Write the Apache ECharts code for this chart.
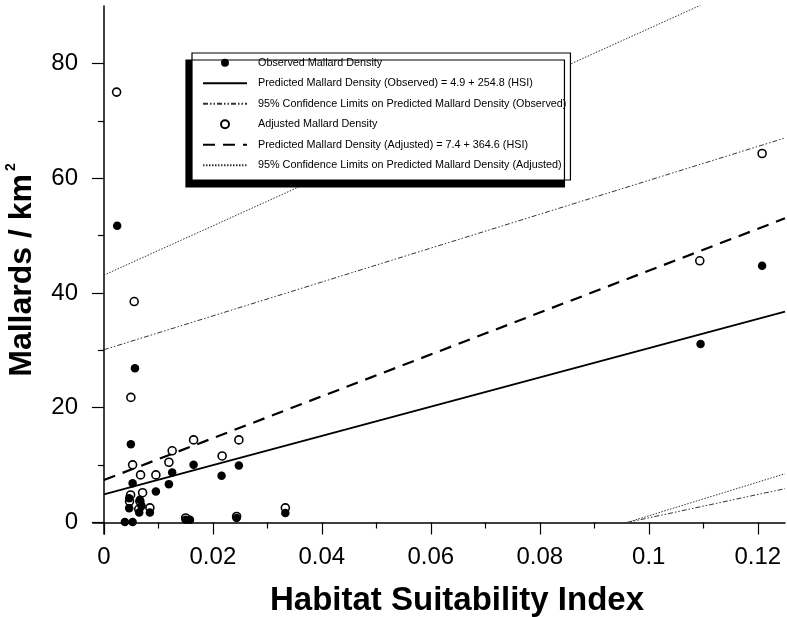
<!DOCTYPE html>
<html>
<head>
<meta charset="utf-8">
<script src="https://cdn.jsdelivr.net/npm/echarts@6/dist/echarts.min.js"></script>
<style>html,body{margin:0;padding:0;background:#fff;}#chart{width:787px;height:617px;}</style>
</head>
<body>
<div id="chart"></div>
<script>
// ---- data ----
var xMajorTicks = [0, 0.02, 0.04, 0.06, 0.08, 0.1, 0.12];
var xMinorTicks = [0.01, 0.03, 0.05, 0.07, 0.09, 0.11];
var yMajorTicks = [0, 20, 40, 60, 80];
var yMinorTicks = [10, 30, 50, 70];

var observedPoints = [
  [0.00244, 51.7], [0.0057, 26.9], [0.00495, 13.65], [0.00527, 6.86],
  [0.00954, 5.4], [0.01193, 6.69], [0.01253, 8.71], [0.01646, 10.05],
  [0.0216, 8.13], [0.02477, 9.93], [0.1095, 31.1], [0.1208, 44.75],
  [0.00464, 4.25], [0.00464, 2.5], [0.0066, 3.95], [0.00648, 1.74],
  [0.00844, 1.74], [0.0069, 2.9], [0.0333, 1.64], [0.00385, 0.1],
  [0.00527, 0.1], [0.015, 0.47], [0.0158, 0.47], [0.02435, 0.77]
];
var adjustedPoints = [
  [0.00233, 75.0], [0.00556, 38.5], [0.00495, 21.8], [0.00527, 10.05],
  [0.00673, 8.3], [0.00954, 8.3], [0.01193, 10.5], [0.01253, 12.5],
  [0.01646, 14.4], [0.0217, 11.6], [0.02477, 14.4], [0.10936, 45.6],
  [0.1208, 64.3], [0.0049, 4.8], [0.0071, 5.2], [0.00844, 2.56],
  [0.0333, 2.56], [0.015, 0.8], [0.02435, 1.05], [0.0047, 3.7],
  [0.0066, 3.7], [0.0064, 2.3]
];
var predictedObserved = [[0, 4.9], [0.125, 36.75]];
var predictedAdjusted = [[0, 7.4], [0.125, 53.0]];
var ciObservedUpper = [[0, 30.1], [0.125, 67.0]];
var ciObservedLower = [[0.096, 0], [0.125, 5.9]];
var ciAdjustedUpper = [[0, 43.1], [0.125, 96.8]];
var ciAdjustedLower = [[0.096, 0], [0.125, 8.5]];

var names = [
  'Observed Mallard Density',
  'Predicted Mallard Density (Observed) = 4.9 + 254.8 (HSI)',
  '95% Confidence Limits on Predicted Mallard Density (Observed)',
  'Adjusted Mallard Density',
  'Predicted Mallard Density (Adjusted) = 7.4 + 364.6 (HSI)',
  '95% Confidence Limits on Predicted Mallard Density (Adjusted)'
];

var FONT = "'Liberation Sans', Arial, Helvetica, sans-serif";
var chart = echarts.init(document.getElementById('chart'), null, {renderer: 'canvas'});

function fmt(v) { return String(Number((+v).toFixed(3))); }

var legendData = names.map(function (n, i) {
  return (i === 0 || i === 3) ? {name: n}
    : {name: n, itemStyle: {color: 'rgba(0,0,0,0)', borderColor: 'rgba(0,0,0,0)', borderWidth: 0}};
});

var option = {
  animation: false,
  backgroundColor: '#fff',
  textStyle: {fontFamily: FONT},
  grid: {left: 93, right: 2, top: 6, bottom: 83, containLabel: false, outerBoundsMode: 'none'},
  legend: {
    orient: 'vertical',
    left: 192, top: 53,
    data: legendData,
    itemWidth: 44, itemHeight: 8, itemGap: 7,
    padding: [3, 4, 8, 10],
    backgroundColor: '#fff',
    borderColor: '#000', borderWidth: 1.2,
    shadowColor: '#000', shadowBlur: 0, shadowOffsetX: -6, shadowOffsetY: 7,
    textStyle: {fontFamily: FONT, fontSize: 10.8, color: '#000', lineHeight: 13.5, padding: [0, 0, 0, 6]},
    selectedMode: false
  },
  xAxis: [{
    type: 'value', min: -0.002, max: 0.125,
    axisLine: {show: true, onZero: true, lineStyle: {color: '#000', width: 1.5}},
    axisTick: {show: true, length: 12, customValues: xMajorTicks, lineStyle: {color: '#000', width: 1.2}},
    axisLabel: {customValues: xMajorTicks, formatter: fmt, margin: 11, fontSize: 24, color: '#000', fontFamily: FONT},
    splitLine: {show: false},
    name: 'Habitat Suitability Index', nameLocation: 'middle', nameGap: 50,
    nameTextStyle: {fontFamily: FONT, fontSize: 33, fontWeight: 'bold', color: '#000', padding: [0, 0, 0, 36]}
  }, {
    type: 'value', min: -0.002, max: 0.125,
    axisLine: {show: false, onZero: true},
    axisTick: {show: true, inside: true, length: 6, customValues: xMinorTicks, lineStyle: {color: '#000', width: 1.2}},
    axisLabel: {show: false},
    splitLine: {show: false}
  }],
  yAxis: [{
    type: 'value', min: -2, max: 90,
    axisLine: {show: true, onZero: true, lineStyle: {color: '#000', width: 1.5}},
    axisTick: {show: true, length: 12, customValues: yMajorTicks, lineStyle: {color: '#000', width: 1.2}},
    axisLabel: {customValues: yMajorTicks, margin: 15, fontSize: 24, color: '#000', fontFamily: FONT},
    splitLine: {show: false},
    name: '{a|Mallards / km}{b|2}', nameLocation: 'middle', nameGap: 53,
    nameTextStyle: {
      fontFamily: FONT, fontSize: 32, fontWeight: 'bold', color: '#000',
      rich: {
        a: {fontFamily: FONT, fontSize: 32, fontWeight: 'bold', color: '#000'},
        b: {fontFamily: FONT, fontSize: 14, fontWeight: 'bold', color: '#000', verticalAlign: 'bottom', padding: [0, 0, 22, 3]}
      }
    }
  }, {
    type: 'value', min: -2, max: 90,
    axisLine: {show: false, onZero: true},
    axisTick: {show: true, inside: true, length: 6, customValues: yMinorTicks, lineStyle: {color: '#000', width: 1.2}},
    axisLabel: {show: false},
    splitLine: {show: false}
  }],
  series: [
    {name: names[2], type: 'line', data: ciObservedUpper, symbol: 'none', z: 2,
     lineStyle: {color: '#333', width: 1, type: [5, 2, 1.5, 2, 1.5, 2]}, itemStyle: {color: '#333'}},
    {name: names[2], type: 'line', data: ciObservedLower, symbol: 'none', z: 2,
     lineStyle: {color: '#333', width: 1, type: [5, 2, 1.5, 2, 1.5, 2]}, itemStyle: {color: '#333'}},
    {name: names[5], type: 'line', data: ciAdjustedUpper, symbol: 'none', z: 2,
     lineStyle: {color: '#333', width: 1, type: [1.5, 1.5]}, itemStyle: {color: '#333'}},
    {name: names[5], type: 'line', data: ciAdjustedLower, symbol: 'none', z: 2,
     lineStyle: {color: '#333', width: 1, type: [1.5, 1.5]}, itemStyle: {color: '#333'}},
    {name: names[1], type: 'line', data: predictedObserved, symbol: 'none', z: 3,
     lineStyle: {color: '#000', width: 2, type: 'solid'}, itemStyle: {color: '#000'}},
    {name: names[4], type: 'line', data: predictedAdjusted, symbol: 'none', z: 3,
     lineStyle: {color: '#000', width: 2.2, type: [12, 8]}, itemStyle: {color: '#000'}},
    {name: names[3], type: 'scatter', data: adjustedPoints, symbol: 'circle', symbolSize: 8, z: 4,
     itemStyle: {color: '#fff', borderColor: '#000', borderWidth: 1.6, opacity: 1}},
    {name: names[0], type: 'scatter', data: observedPoints, symbol: 'circle', symbolSize: 8.5, z: 5,
     itemStyle: {color: '#000', opacity: 1}}
  ]
};
chart.setOption(option);
</script>
</body>
</html>
